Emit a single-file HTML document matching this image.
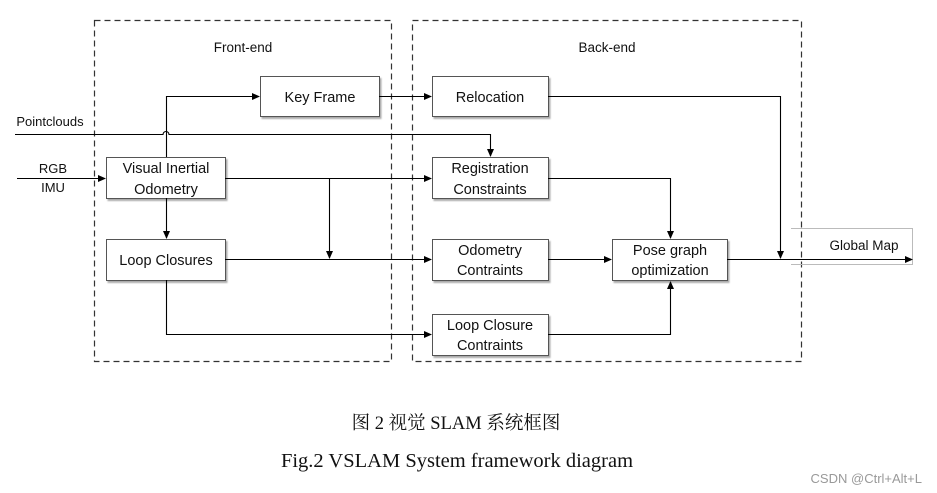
<!DOCTYPE html>
<html><head><meta charset="utf-8"><style>
html,body{margin:0;padding:0;background:#fff;}
svg{display:block;}
.t{font-family:"Liberation Sans","DejaVu Sans",sans-serif;font-size:14.5px;fill:#111;text-anchor:middle;}
</style></head><body>
<svg width="937" height="493" viewBox="0 0 937 493" xmlns="http://www.w3.org/2000/svg">
<defs>
<marker id="a" markerWidth="8" markerHeight="8" refX="7" refY="4" orient="auto" markerUnits="userSpaceOnUse"><path d="M0,0.5 L8,4 L0,7.5 Z" fill="#000"/></marker>
<filter id="s" x="-10%" y="-10%" width="130%" height="140%"><feDropShadow dx="1.5" dy="2" stdDeviation="0.8" flood-color="#888" flood-opacity="0.7"/></filter>
</defs>
<g fill="none" stroke="#333" stroke-width="1.2" stroke-dasharray="6,4">
<rect x="94.5" y="20.5" width="297" height="341"/>
<rect x="412.5" y="20.5" width="389" height="341"/>
</g>
<text class="t" x="243" y="52" style="font-size:13.5px">Front-end</text>
<text class="t" x="607" y="52" style="font-size:13.5px">Back-end</text>
<path d="M791,228.5 H912.5 V264.5 H791" fill="none" stroke="#bbb" stroke-width="1"/>
<text class="t" x="864" y="250" style="font-size:13.5px">Global Map</text>
<g fill="#fff" stroke="#555" stroke-width="1" filter="url(#s)">
<rect x="260.5" y="76.5" width="119" height="40"/>
<rect x="106.5" y="157.5" width="119" height="41"/>
<rect x="106.5" y="239.5" width="119" height="41"/>
<rect x="432.5" y="76.5" width="116" height="40"/>
<rect x="432.5" y="157.5" width="116" height="41"/>
<rect x="432.5" y="239.5" width="116" height="41"/>
<rect x="432.5" y="314.5" width="116" height="41"/>
<rect x="612.5" y="239.5" width="115" height="41"/>
</g>
<text class="t" x="320" y="102">Key Frame</text>
<text class="t" x="166" y="173">Visual Inertial</text>
<text class="t" x="166" y="194">Odometry</text>
<text class="t" x="166" y="265">Loop Closures</text>
<text class="t" x="490" y="102">Relocation</text>
<text class="t" x="490" y="173">Registration</text>
<text class="t" x="490" y="194">Constraints</text>
<text class="t" x="490" y="255">Odometry</text>
<text class="t" x="490" y="275">Contraints</text>
<text class="t" x="490" y="330">Loop Closure</text>
<text class="t" x="490" y="350">Contraints</text>
<text class="t" x="670" y="255">Pose graph</text>
<text class="t" x="670" y="275">optimization</text>
<text class="t" x="50" y="126" style="font-size:13px">Pointclouds</text>
<text class="t" x="53" y="173" style="font-size:13px">RGB</text>
<text class="t" x="53" y="192" style="font-size:13px">IMU</text>
<g fill="none" stroke="#000" stroke-width="1.1">
<path d="M15,134.5 H163 A3,3 0 0 1 169,134.5 H490.5 V156" marker-end="url(#a)"/>
<path d="M17,178.5 H105" marker-end="url(#a)"/>
<path d="M166.5,157 V96.5 H259" marker-end="url(#a)"/>
<path d="M225,178.5 H431" marker-end="url(#a)"/>
<path d="M329.5,178.5 V258" marker-end="url(#a)"/>
<path d="M166.5,198 V238" marker-end="url(#a)"/>
<path d="M225,259.5 H431" marker-end="url(#a)"/>
<path d="M166.5,280 V334.5 H431" marker-end="url(#a)"/>
<path d="M379,96.5 H431" marker-end="url(#a)"/>
<path d="M548,96.5 H780.5 V258" marker-end="url(#a)"/>
<path d="M548,178.5 H670.5 V238" marker-end="url(#a)"/>
<path d="M548,259.5 H611" marker-end="url(#a)"/>
<path d="M727,259.5 H912" marker-end="url(#a)"/>
<path d="M548,334.5 H670.5 V282" marker-end="url(#a)"/>
</g>
<text x="456" y="429" style="font-family:'Liberation Serif','Noto Serif CJK SC',serif;font-size:18.5px;text-anchor:middle;fill:#111">图 2 视觉 SLAM 系统框图</text>
<text x="457" y="467" style="font-family:'Liberation Serif',serif;font-size:20.5px;text-anchor:middle;fill:#111">Fig.2 VSLAM System framework diagram</text>
<text x="922" y="483" style="font-family:'Liberation Sans',sans-serif;font-size:13px;text-anchor:end;fill:#999">CSDN @Ctrl+Alt+L</text>
</svg>
</body></html>
